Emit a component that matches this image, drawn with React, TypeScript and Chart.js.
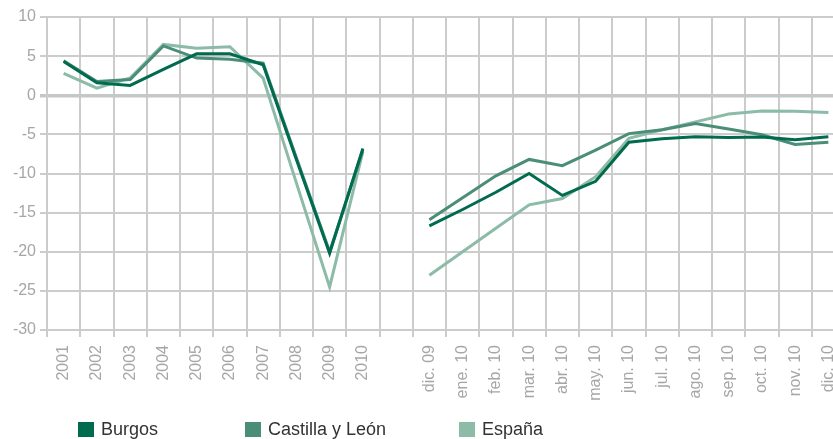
import React, { useEffect, useRef } from "react";
import { Chart, registerables } from "chart.js";

Chart.register(...registerables);

const categories: string[] = [
  "2001", "2002", "2003", "2004", "2005", "2006", "2007", "2008", "2009", "2010",
  "",
  "dic. 09", "ene. 10", "feb. 10", "mar. 10", "abr. 10", "may. 10", "jun. 10",
  "jul. 10", "ago. 10", "sep. 10", "oct. 10", "nov. 10", "dic. 10",
];

const burgos: (number | null)[] = [
  4.3, 1.6, 1.25, 3.3, 5.3, 5.3, 3.9, -8.2, -20.2, -6.8,
  null,
  -16.7, -14.6, -12.4, -10.0, -12.8, -11.0, -6.0, -5.55, -5.3, -5.4, -5.35, -5.7, -5.3,
];

const castilla: (number | null)[] = [
  4.4, 1.75, 2.0, 6.3, 4.75, 4.6, 4.1, -8.0, -20.0, -7.0,
  null,
  -15.9, -13.1, -10.3, -8.2, -9.0, -7.0, -4.9, -4.4, -3.6, -4.3, -5.05, -6.3, -6.0,
];

const espana: (number | null)[] = [
  2.8, 0.9, 2.2, 6.5, 6.0, 6.2, 2.2, -11.2, -24.5, -7.2,
  null,
  -23.0, -20.0, -17.0, -14.0, -13.2, -10.4, -5.5, -4.4, -3.4, -2.4, -2.0, -2.05, -2.2,
];

const seriesNames = ["Burgos", "Castilla y León", "España"];
const seriesColors = ["#006b4f", "#4a8e78", "#8cbba7"];

const yMin = -30;
const yMax = 10;
const yStep = 5;

const FONT = "'Liberation Sans', Arial, sans-serif";
const GRID = "#cccccc";
const TICK_TEXT = "#a6a6a6";

export default function App() {
  const canvasRef = useRef<HTMLCanvasElement | null>(null);

  useEffect(() => {
    const canvas = canvasRef.current;
    if (!canvas) return;
    const chart = new Chart(canvas, {
      type: "line",
      data: {
        labels: categories,
        datasets: [burgos, castilla, espana].map((d, i) => ({
          label: seriesNames[i],
          data: d,
          borderColor: seriesColors[i],
          backgroundColor: seriesColors[i],
          borderWidth: 3,
          pointRadius: 0,
          pointHoverRadius: 0,
          tension: 0,
          spanGaps: false,
          fill: false,
        })),
      },
      options: {
        animation: false,
        responsive: false,
        devicePixelRatio: 1,
        events: [],
        layout: { padding: { left: 0, right: 15, top: 17, bottom: 0 } },
        plugins: {
          legend: { display: false },
          tooltip: { enabled: false },
          title: { display: false },
        },
        scales: {
          x: {
            type: "category",
            offset: true,
            grid: {
              display: true,
              offset: true,
              color: GRID,
              lineWidth: 2,
              drawTicks: true,
              tickLength: 7,
            },
            border: { display: true, color: GRID, width: 2 },
            ticks: {
              autoSkip: false,
              maxRotation: 90,
              minRotation: 90,
              padding: 8,
              color: TICK_TEXT,
              font: { family: FONT, size: 16 },
            },
            afterFit: (scale: any) => {
              scale.height = 109;
            },
          },
          y: {
            min: yMin,
            max: yMax,
            grid: {
              color: (ctx: any) => (ctx.tick && ctx.tick.value === 0 ? "#c4c8c6" : GRID),
              lineWidth: (ctx: any) => (ctx.tick && ctx.tick.value === 0 ? 3.5 : 2),
              drawTicks: true,
              tickLength: 7,
            },
            border: { display: true, color: GRID, width: 2 },
            ticks: {
              stepSize: yStep,
              padding: 4,
              color: TICK_TEXT,
              font: { family: FONT, size: 16 },
            },
            afterFit: (scale: any) => {
              scale.width = 47;
            },
          },
        },
      },
    });
    return () => chart.destroy();
  }, []);

  const legendItems = [
    { box: 78, text: 101 },
    { box: 245, text: 268 },
    { box: 459, text: 482 },
  ];

  return (
    <div
      style={{
        position: "fixed",
        left: 0,
        top: 0,
        width: 833,
        height: 439,
        overflow: "hidden",
        background: "#ffffff",
      }}
    >
      <canvas
        ref={canvasRef}
        width={860}
        height={439}
        style={{ position: "absolute", left: 0, top: 0, width: 860, height: 439 }}
      />
      {seriesNames.map((name, i) => (
        <React.Fragment key={name}>
          <div
            style={{
              position: "absolute",
              left: legendItems[i].box,
              top: 422,
              width: 16,
              height: 15,
              background: seriesColors[i],
            }}
          />
          <div
            style={{
              position: "absolute",
              left: legendItems[i].text,
              top: 419,
              fontFamily: FONT,
              fontSize: 18,
              lineHeight: "20px",
              color: "#333333",
              whiteSpace: "nowrap",
            }}
          >
            {name}
          </div>
        </React.Fragment>
      ))}
    </div>
  );
}
